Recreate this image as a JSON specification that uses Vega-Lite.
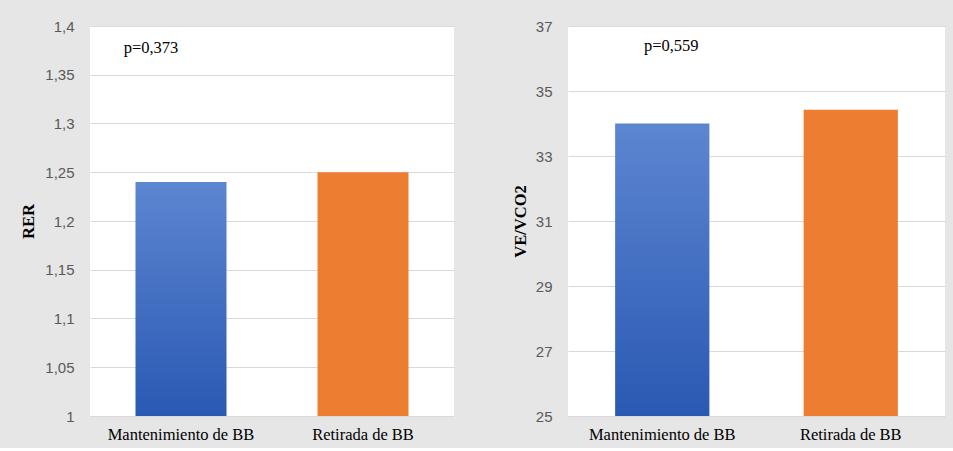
{
  "$schema": "https://vega.github.io/schema/vega-lite/v6.json",
  "background": "#e6e6e6",
  "padding": {"left": 20, "top": 19, "right": 10, "bottom": 5},
  "spacing": 58,
  "config": {
    "view": {"fill": "white", "stroke": null},
    "axis": {"labelFont": "Liberation Sans", "labelFontSize": 15, "labelColor": "#595959", "titleFont": "Liberation Serif", "titleFontSize": 16.5, "titleFontWeight": "bold", "titleColor": "black"},
    "axisY": {"domain": false, "ticks": false, "labelPadding": 16, "gridColor": "#d9d9d9", "gridWidth": 1.2, "titlePadding": 8},
    "axisX": {"domain": false, "ticks": false, "labelFont": "Liberation Serif", "labelFontSize": 16.5, "labelColor": "black", "labelPadding": 10, "labelAngle": 0, "title": null}
  },
  "datasets": {
    "rer": [
      {"grupo": "Mantenimiento de BB", "valor": 1.24},
      {"grupo": "Retirada de BB", "valor": 1.25}
    ],
    "ve": [
      {"grupo": "Mantenimiento de BB", "valor": 34.0},
      {"grupo": "Retirada de BB", "valor": 34.42}
    ]
  },
  "hconcat": [
    {
      "width": 364,
      "height": 390,
      "data": {"name": "rer"},
      "encoding": {
        "x": {"field": "grupo", "type": "nominal", "sort": null, "scale": {"paddingInner": 0.5, "paddingOuter": 0.25}, "axis": {"title": null}},
        "y": {"field": "valor", "type": "quantitative", "scale": {"domain": [1, 1.4], "zero": false, "nice": false}, "title": "RER", "axis": {"values": [1, 1.05, 1.1, 1.15, 1.2, 1.25, 1.3, 1.35, 1.4], "labelExpr": "replace(format(datum.value, '~r'), '.', ',')"}}
      },
      "layer": [
        {
          "transform": [{"filter": "datum.grupo == 'Mantenimiento de BB'"}],
          "mark": {"type": "bar", "color": {"gradient": "linear", "x1": 0, "y1": 0, "x2": 0, "y2": 1, "stops": [{"offset": 0, "color": "#5d86d1"}, {"offset": 1, "color": "#2a59b3"}]}},
          "encoding": {"y2": {"datum": 1}}
        },
        {
          "transform": [{"filter": "datum.grupo == 'Retirada de BB'"}],
          "mark": {"type": "bar", "color": "#ed7d31"},
          "encoding": {"y2": {"datum": 1}}
        },
        {
          "transform": [{"filter": "datum.grupo == 'Mantenimiento de BB'"}],
          "mark": {"type": "text", "text": "p=0,373", "font": "Liberation Serif", "fontSize": 16.5, "color": "black", "dx": -30, "baseline": "middle"},
          "encoding": {"y": {"datum": 1.377}}
        }
      ]
    },
    {
      "width": 377,
      "height": 390,
      "data": {"name": "ve"},
      "encoding": {
        "x": {"field": "grupo", "type": "nominal", "sort": null, "scale": {"paddingInner": 0.5, "paddingOuter": 0.25}, "axis": {"title": null}},
        "y": {"field": "valor", "type": "quantitative", "scale": {"domain": [25, 37], "zero": false, "nice": false}, "title": "VE/VCO2", "axis": {"values": [25, 27, 29, 31, 33, 35, 37], "titlePadding": 7}}
      },
      "layer": [
        {
          "transform": [{"filter": "datum.grupo == 'Mantenimiento de BB'"}],
          "mark": {"type": "bar", "color": {"gradient": "linear", "x1": 0, "y1": 0, "x2": 0, "y2": 1, "stops": [{"offset": 0, "color": "#5d86d1"}, {"offset": 1, "color": "#2a59b3"}]}},
          "encoding": {"y2": {"datum": 25}}
        },
        {
          "transform": [{"filter": "datum.grupo == 'Retirada de BB'"}],
          "mark": {"type": "bar", "color": "#ed7d31"},
          "encoding": {"y2": {"datum": 25}}
        },
        {
          "transform": [{"filter": "datum.grupo == 'Mantenimiento de BB'"}],
          "mark": {"type": "text", "text": "p=0,559", "font": "Liberation Serif", "fontSize": 16.5, "color": "black", "dx": 9, "baseline": "middle"},
          "encoding": {"y": {"datum": 36.38}}
        }
      ]
    }
  ]
}
